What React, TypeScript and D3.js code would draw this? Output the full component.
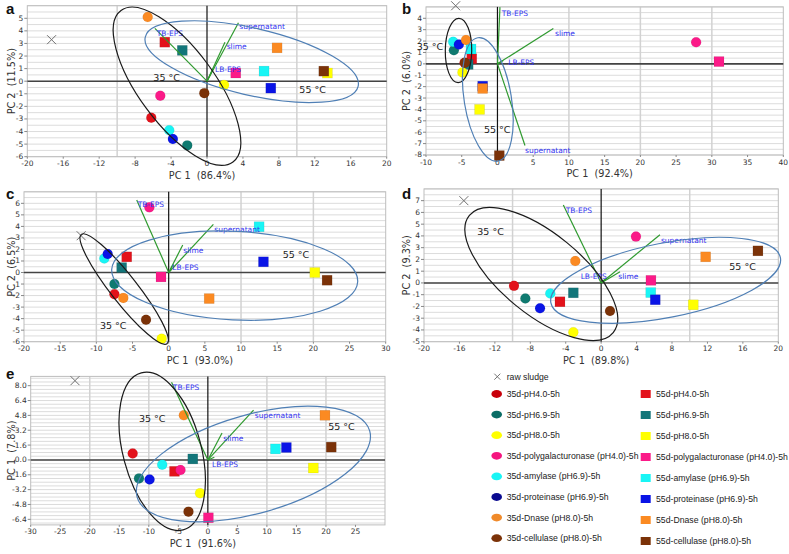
import React from "react";
import * as d3 from "d3";

// ---------- shared categories ----------
const TREATMENTS = [
  "pH4.0-5h",
  "pH6.9-5h",
  "pH8.0-5h",
  "polygalacturonase (pH4.0)-5h",
  "amylase (pH6.9)-5h",
  "proteinase (pH6.9)-5h",
  "Dnase (pH8.0)-5h",
  "cellulase (pH8.0)-5h",
];
const CIRCLE_COLORS = ["#e3121b", "#0f7a70", "#ffff00", "#fb1a88", "#19f5f5", "#0a14e6", "#fb8a22", "#7b3208"];
const SQUARE_COLORS = ["#e3121b", "#13767a", "#ffff00", "#fb1a88", "#19f5f5", "#0a14e6", "#fb8a22", "#7b3208"];
const LEGEND_CIRCLE_COLORS = ["#c8000a", "#0b6d66", "#ffff00", "#f5157f", "#19f5f5", "#0a0a90", "#f08a2a", "#7b3208"];
const LOADING_NAMES = ["TB-EPS", "supernatant", "slime", "LB-EPS"];

// ---------- panel a ----------
const a35X = [-6.2, -2.2, 1.9, -5.2, -4.2, -3.8, -6.6, -0.3];
const a35Y = [-2.9, -5.1, -0.3, -1.15, -3.9, -4.6, 5.1, -0.95];
const a55X = [-4.7, -2.75, 13.4, 3.2, 6.35, 7.1, 7.8, 13.0];
const a55Y = [3.1, 2.45, 0.65, 0.65, 0.8, -0.55, 2.65, 0.8];
const aRaw = [-17.3, 3.3];
const aLoadX = [-5.8, 3.5, 2.0, 0.7];
const aLoadY = [4.2, 4.65, 3.1, 1.0];
const aLabX = [-5.6, 3.6, 2.19, 0.89];
const aLabY = [3.8, 4.33, 2.73, 0.94];
const aEll35 = [-10.43, 3.75, 5.88, -6.68, -8.35];
const aEll55 = [-6.9, 16.85, 4.8, -1.7, -1.5];
const aT35 = [-5.97, 0.05];
const aT55 = [10.28, -0.94];
const aXTicks = d3.range(-20, 21, 4);
const aYTicks = d3.range(-6, 6, 1);

// ---------- panel b ----------
const b35X = [-4.6, -6.1, -4.9, 27.8, -6.2, -5.4, -4.4, -4.55];
const b35Y = [0.1, 1.2, -0.75, 1.9, 1.93, 1.7, 2.1, 0.1];
const b55X = [-3.6, -4.1, -2.5, 31.0, -3.7, -2.07, -2.07, 0.26];
const b55Y = [0.45, -0.05, -4.0, 0.2, 1.3, -1.96, -2.16, -8.05];
const bRaw = [-5.85, 5.1];
const bLoadX = [0.35, 3.85, 7.82, 0.82];
const bLoadY = [4.98, -7.17, 3.11, 0.3];
const bLabX = [0.59, 3.85, 8.05, 1.52];
const bLabY = [4.44, -7.56, 2.67, 0.15];
const bEll35 = [-7.3, -3.6, 4.0, -1.65, -5.4];
const bEll55 = [-4.9, 2.2, 2.3, -8.55, -2.55];
const bT35 = [-11.3, 1.19];
const bT55 = [-1.88, -6.07];
const bXTicks = d3.range(-10, 41, 5);
const bYTicks = d3.range(-8, 5, 1);

// ---------- panel c ----------
const c35X = [-7.5, -7.5, -0.97, -2.67, -8.9, -8.43, -6.27, -3.13];
const c35Y = [-1.88, -1.0, -5.74, 5.65, 1.22, 1.6, -2.2, -4.1];
const c55X = [-5.8, -6.5, 20.2, -1.06, 12.5, 13.1, 5.6, 21.9];
const c55Y = [1.36, 0.43, 0.0, -0.38, 3.97, 0.93, -2.26, -0.67];
const cRaw = [-12.1, 3.19];
const cLoadX = [-4.42, 6.18, 1.94, 0.65];
const cLoadY = [6.29, 4.17, 2.38, 0.7];
const cLabX = [-4.29, 6.31, 2.03, 0.51];
const cLabY = [5.91, 3.74, 1.94, 0.41];
const cEll35 = [-12.26, -0.05, 3.36, -6.23, -11.8];
const cEll55 = [-7.88, 26.13, 3.6, -4.14, 7.1];
const cT35 = [-9.49, -4.93];
const cT55 = [15.76, 1.22];
const cXTicks = d3.range(-20, 31, 5);
const cYTicks = d3.range(-6, 7, 1);

// ---------- panel d ----------
const d35X = [-9.84, -8.56, -3.14, 3.93, -5.74, -6.9, -2.92, 1.0];
const d35Y = [-0.25, -1.32, -4.19, 3.94, -0.9, -2.16, 1.86, -2.39];
const d55X = [-4.65, -3.14, 10.4, 5.62, 5.6, 6.11, 11.8, 17.7];
const d55Y = [-1.6, -0.84, -1.86, 0.22, -0.82, -1.43, 2.22, 2.73];
const dRaw = [-15.5, 7.0];
const dLoadX = [-4.27, 6.64, 2.13, 0.43];
const dLoadY = [6.63, 4.1, 0.96, 0.31];
const dLabX = [-4.01, 6.75, 1.94, -2.31];
const dLabY = [6.21, 3.65, 0.53, 0.53];
const dEll35 = [-15.37, 1.86, 6.41, -4.89, -12.55];
const dEll55 = [-5.7, 20.26, 3.88, -3.43, 13.4];
const dT35 = [-13.98, 4.1];
const dT55 = [14.47, 1.07];
const dXTicks = d3.range(-20, 21, 4);
const dYTicks = d3.range(-5, 8, 1);

// ---------- panel e ----------
const e35X = [-12.73, -11.66, -1.32, -4.63, -7.73, -9.87, -4.07, -3.28];
const e35Y = [0.69, -1.99, -3.58, -1.09, -0.51, -2.1, 4.81, -5.57];
const e55X = [-5.65, -2.55, 17.86, 0.09, 11.45, 13.3, 19.83, 20.9];
const e55Y = [-1.23, 0.11, -0.87, -6.23, 1.19, 1.34, 4.81, 1.38];
const eRaw = [-22.5, 8.54];
const eLoadX = [-6.15, 7.74, 2.4, 1.1];
const eLoadY = [8.36, 5.36, 2.9, 0.29];
const eLabX = [-5.93, 7.96, 2.62, 0.71];
const eLabY = [7.78, 4.81, 2.35, -0.47];
const eEll35 = [-15.04, -0.42, 9.45, -7.6, -10.43];
const eEll55 = [-12.11, 27.54, 5.79, -6.66, 17.13];
const eT35 = [-11.66, 4.09];
const eT55 = [20.39, 3.19];
const eXTicks = d3.range(-30, 26, 5);
const eYTicks = [-6.4, -4.8, -3.2, -1.6, 0.0, 1.6, 3.2, 4.8, 6.4, 8.0];

type Panel = {
  letter: string;
  lx: number;
  ly: number;
  px: [number, number];
  py: [number, number];
  xd: [number, number];
  yd: [number, number];
  xTicks: number[];
  yTicks: number[];
  yFmt: (v: number) => string;
  gridStep: number;
  vGrid: number[];
  p35X: number[]; p35Y: number[]; p55X: number[]; p55Y: number[];
  raw: number[];
  loadX: number[]; loadY: number[]; labX: number[]; labY: number[];
  ell35: number[]; ell55: number[];
  t35: number[]; t55: number[];
  xTitle: string; yTitle: string; yTitleX: number;
};

const intFmt = (v: number) => String(v);

const PANELS: Panel[] = [
  { letter: "a", lx: 6, ly: 14, px: [27.3, 386.7], py: [156.7, 5.7], xd: [-20, 20], yd: [-6, 6], xTicks: aXTicks, yTicks: aYTicks, yFmt: intFmt, gridStep: 0.5, vGrid: [-10, 10],
    p35X: a35X, p35Y: a35Y, p55X: a55X, p55Y: a55Y, raw: aRaw, loadX: aLoadX, loadY: aLoadY, labX: aLabX, labY: aLabY, ell35: aEll35, ell55: aEll55, t35: aT35, t55: aT55,
    xTitle: "PC 1  (86.4%)", yTitle: "PC 2  (11.5%)", yTitleX: 12 },
  { letter: "b", lx: 402, ly: 14, px: [426, 783.3], py: [155, 6.9], xd: [-10, 40], yd: [-8, 5], xTicks: bXTicks, yTicks: bYTicks, yFmt: intFmt, gridStep: 0.5, vGrid: [10, 20, 30],
    p35X: b35X, p35Y: b35Y, p55X: b55X, p55Y: b55Y, raw: bRaw, loadX: bLoadX, loadY: bLoadY, labX: bLabX, labY: bLabY, ell35: bEll35, ell55: bEll55, t35: bT35, t55: bT55,
    xTitle: "PC 1  (92.4%)", yTitle: "PC 2  (6.0%)", yTitleX: 407 },
  { letter: "c", lx: 6, ly: 199, px: [24, 385.7], py: [341.7, 191.8], xd: [-20, 30], yd: [-6, 7], xTicks: cXTicks, yTicks: cYTicks, yFmt: intFmt, gridStep: 0.5, vGrid: [-10, 10, 20],
    p35X: c35X, p35Y: c35Y, p55X: c55X, p55Y: c55Y, raw: cRaw, loadX: cLoadX, loadY: cLoadY, labX: cLabX, labY: cLabY, ell35: cEll35, ell55: cEll55, t35: cT35, t55: cT55,
    xTitle: "PC 1  (93.0%)", yTitle: "PC 2  (6.5%)", yTitleX: 12 },
  { letter: "d", lx: 402, ly: 199, px: [424, 778.3], py: [341.7, 188.9], xd: [-20, 20], yd: [-5, 8], xTicks: dXTicks, yTicks: dYTicks, yFmt: intFmt, gridStep: 0.5, vGrid: [-10, 10],
    p35X: d35X, p35Y: d35Y, p55X: d55X, p55Y: d55Y, raw: dRaw, loadX: dLoadX, loadY: dLoadY, labX: dLabX, labY: dLabY, ell35: dEll35, ell55: dEll55, t35: dT35, t55: dT55,
    xTitle: "PC 1  (89.8%)", yTitle: "PC 2  (9.3%)", yTitleX: 407 },
  { letter: "e", lx: 6, ly: 379, px: [30.7, 385], py: [524.9, 376.4], xd: [-30, 30], yd: [-7, 9], xTicks: eXTicks, yTicks: eYTicks, yFmt: (v) => v.toFixed(1), gridStep: 0.4, vGrid: [-20, -10, 10, 20],
    p35X: e35X, p35Y: e35Y, p55X: e55X, p55Y: e55Y, raw: eRaw, loadX: eLoadX, loadY: eLoadY, labX: eLabX, labY: eLabY, ell35: eEll35, ell55: eEll55, t35: eT35, t55: eT55,
    xTitle: "PC 1  (91.6%)", yTitle: "PC 1  (7.8%)", yTitleX: 12 },
];

function ellipseFromBox(e: number[], x: (v: number) => number, y: (v: number) => number) {
  const [xmin, xmax, top, bottom, xt] = e;
  const x0 = x(xmin), x1 = x(xmax), y0 = y(top), y1 = y(bottom);
  const cx = (x0 + x1) / 2, cy = (y0 + y1) / 2;
  const W = (x1 - x0) / 2, H = (y1 - y0) / 2;
  const K = -(x(xt) - cx) * H;
  const c2 = W * W - H * H, s2 = 2 * K;
  const S = W * W + H * H;
  let D = Math.hypot(c2, s2);
  if (D > S * 0.97) D = S * 0.97;
  const th = Math.atan2(s2, c2) / 2;
  return { cx, cy, a: Math.sqrt((S + D) / 2), b: Math.sqrt((S - D) / 2), deg: (th * 180) / Math.PI };
}

const TICK_FONT = "'DejaVu Sans', Verdana, sans-serif";

function PanelView({ p }: { p: Panel }) {
  const x = d3.scaleLinear().domain(p.xd).range(p.px);
  const y = d3.scaleLinear().domain(p.yd).range(p.py);
  const grid = d3.range(Math.ceil(p.yd[0] / p.gridStep), Math.floor(p.yd[1] / p.gridStep) + 1).map((k) => +(k * p.gridStep).toFixed(3));
  const e35 = ellipseFromBox(p.ell35, x, y);
  const e55 = ellipseFromBox(p.ell55, x, y);
  const [xl, xr] = p.px;
  const [yb, yt] = p.py;
  const sq = 10;
  const ox = x(0), oy = y(0);
  return (
    <g>
      {/* grid */}
      {grid.map((g, i) => (
        <line key={"h" + i} x1={xl} x2={xr} y1={y(g)} y2={y(g)} stroke="#dcdcdc" strokeWidth={1} />
      ))}
      {p.vGrid.map((g, i) => (
        <line key={"v" + i} x1={x(g)} x2={x(g)} y1={yt} y2={yb} stroke="#d2d2d2" strokeWidth={1.5} />
      ))}
      <rect x={xl} y={yt} width={xr - xl} height={yb - yt} fill="none" stroke="#bdbdbd" strokeWidth={1} />
      {/* zero axes */}
      <line x1={xl} x2={xr} y1={oy} y2={oy} stroke="#444" strokeWidth={1.6} />
      <line x1={ox} x2={ox} y1={yt} y2={yb} stroke="#111" strokeWidth={1.2} />
      {/* ticks */}
      {p.yTicks.map((t, i) => (
        <g key={"yt" + i}>
          <line x1={xl - 3} x2={xl} y1={y(t)} y2={y(t)} stroke="#888" />
          <text x={xl - 4} y={y(t)} dy="0.33em" textAnchor="end" fontSize={7.5} fontFamily={TICK_FONT} fill="#333">
            {p.yFmt(t)}
          </text>
        </g>
      ))}
      {p.xTicks.map((t, i) => (
        <g key={"xt" + i}>
          <line x1={x(t)} x2={x(t)} y1={yb} y2={yb + 2} stroke="#888" />
          <text x={x(t)} y={yb + 9.5} textAnchor="middle" fontSize={7.5} fontFamily={TICK_FONT} fill="#333">
            {t}
          </text>
        </g>
      ))}
      {/* 55 squares */}
      {p.p55X.map((v, i) => (
        <rect key={"s" + i} x={x(v) - sq / 2} y={y(p.p55Y[i]) - sq / 2} width={sq} height={sq} fill={SQUARE_COLORS[i]} stroke="rgba(0,0,0,0.12)" strokeWidth={0.6} />
      ))}
      {/* 35 circles */}
      {p.p35X.map((v, i) => (
        <circle key={"c" + i} cx={x(v)} cy={y(p.p35Y[i])} r={5} fill={CIRCLE_COLORS[i]} stroke="rgba(0,0,0,0.1)" strokeWidth={0.6} />
      ))}
      {/* raw sludge */}
      <g stroke="#707070" strokeWidth={1}>
        <line x1={x(p.raw[0]) - 4.5} x2={x(p.raw[0]) + 4.5} y1={y(p.raw[1]) - 4.5} y2={y(p.raw[1]) + 4.5} />
        <line x1={x(p.raw[0]) - 4.5} x2={x(p.raw[0]) + 4.5} y1={y(p.raw[1]) + 4.5} y2={y(p.raw[1]) - 4.5} />
      </g>
      {/* loadings */}
      {p.loadX.map((v, i) => (
        <line key={"l" + i} x1={ox} y1={oy} x2={x(v)} y2={y(p.loadY[i])} stroke="#2f9a2f" strokeWidth={1.2} />
      ))}
      {p.labX.map((v, i) => (
        <text key={"lt" + i} x={x(v)} y={y(p.labY[i])} dy="0.35em" fontSize={7.5} fontFamily={TICK_FONT} fill="#3232f0">
          {LOADING_NAMES[i]}
        </text>
      ))}
      {/* ellipses */}
      <ellipse cx={e35.cx} cy={e35.cy} rx={e35.a} ry={e35.b} transform={`rotate(${e35.deg},${e35.cx},${e35.cy})`} fill="none" stroke="#1a1a1a" strokeWidth={1.2} />
      <ellipse cx={e55.cx} cy={e55.cy} rx={e55.a} ry={e55.b} transform={`rotate(${e55.deg},${e55.cx},${e55.cy})`} fill="none" stroke="#4f7fb5" strokeWidth={1.2} />
      {/* temperature labels */}
      <text x={x(p.t35[0])} y={y(p.t35[1])} fontSize={9.5} fontFamily={TICK_FONT} fill="#222">35 °C</text>
      <text x={x(p.t55[0])} y={y(p.t55[1])} fontSize={9.5} fontFamily={TICK_FONT} fill="#222">55 °C</text>
      {/* titles */}
      <text x={(xl + xr) / 2 - 5} y={yb + 22} textAnchor="middle" fontSize={9.7} fontFamily={TICK_FONT} fill="#333" style={{ whiteSpace: "pre" }}>
        {p.xTitle}
      </text>
      <text
        transform={`translate(${p.yTitleX},${(yt + yb) / 2}) rotate(-90)`}
        textAnchor="middle"
        dy="0.35em"
        fontSize={9.7}
        fontFamily={TICK_FONT}
        fill="#333"
        style={{ whiteSpace: "pre" }}
      >
        {p.yTitle}
      </text>
      <text x={p.lx} y={p.ly} fontSize={15} fontWeight="bold" fontFamily="'Liberation Sans', Arial, sans-serif" fill="#111">
        {p.letter}
      </text>
    </g>
  );
}

function Legend() {
  const font = "'Liberation Sans', Arial, sans-serif";
  const fs = 8.7;
  const rows = TREATMENTS.map((t, i) => i);
  return (
    <g>
      <g stroke="#666" strokeWidth={0.9}>
        <line x1={494.3} x2={500.3} y1={373.7} y2={379.7} />
        <line x1={494.3} x2={500.3} y1={379.7} y2={373.7} />
      </g>
      <text x={506.7} y={376.7} dy="0.35em" fontSize={fs} fontFamily={font} fill="#222">raw sludge</text>
      {rows.map((i) => (
        <g key={"lc" + i}>
          <ellipse cx={496.7} cy={394 + i * 20.6} rx={5.3} ry={3.9} fill={LEGEND_CIRCLE_COLORS[i]} />
          <text x={506.7} y={394 + i * 20.6} dy="0.35em" fontSize={fs} fontFamily={font} fill="#222">
            {"35d-" + TREATMENTS[i]}
          </text>
        </g>
      ))}
      {rows.map((i) => (
        <g key={"ls" + i}>
          <rect x={640.7} y={394 + i * 21 - 4} width={10} height={8} fill={SQUARE_COLORS[i]} />
          <text x={656} y={394 + i * 21} dy="0.35em" fontSize={fs} fontFamily={font} fill="#222">
            {"55d-" + TREATMENTS[i]}
          </text>
        </g>
      ))}
    </g>
  );
}

export default function App() {
  return (
    <svg width={789} height={554} style={{ position: "absolute", left: 0, top: 0, background: "#fff" }}>
      <rect width={789} height={554} fill="#fff" />
      {PANELS.map((p) => (
        <PanelView key={p.letter} p={p} />
      ))}
      <Legend />
    </svg>
  );
}
